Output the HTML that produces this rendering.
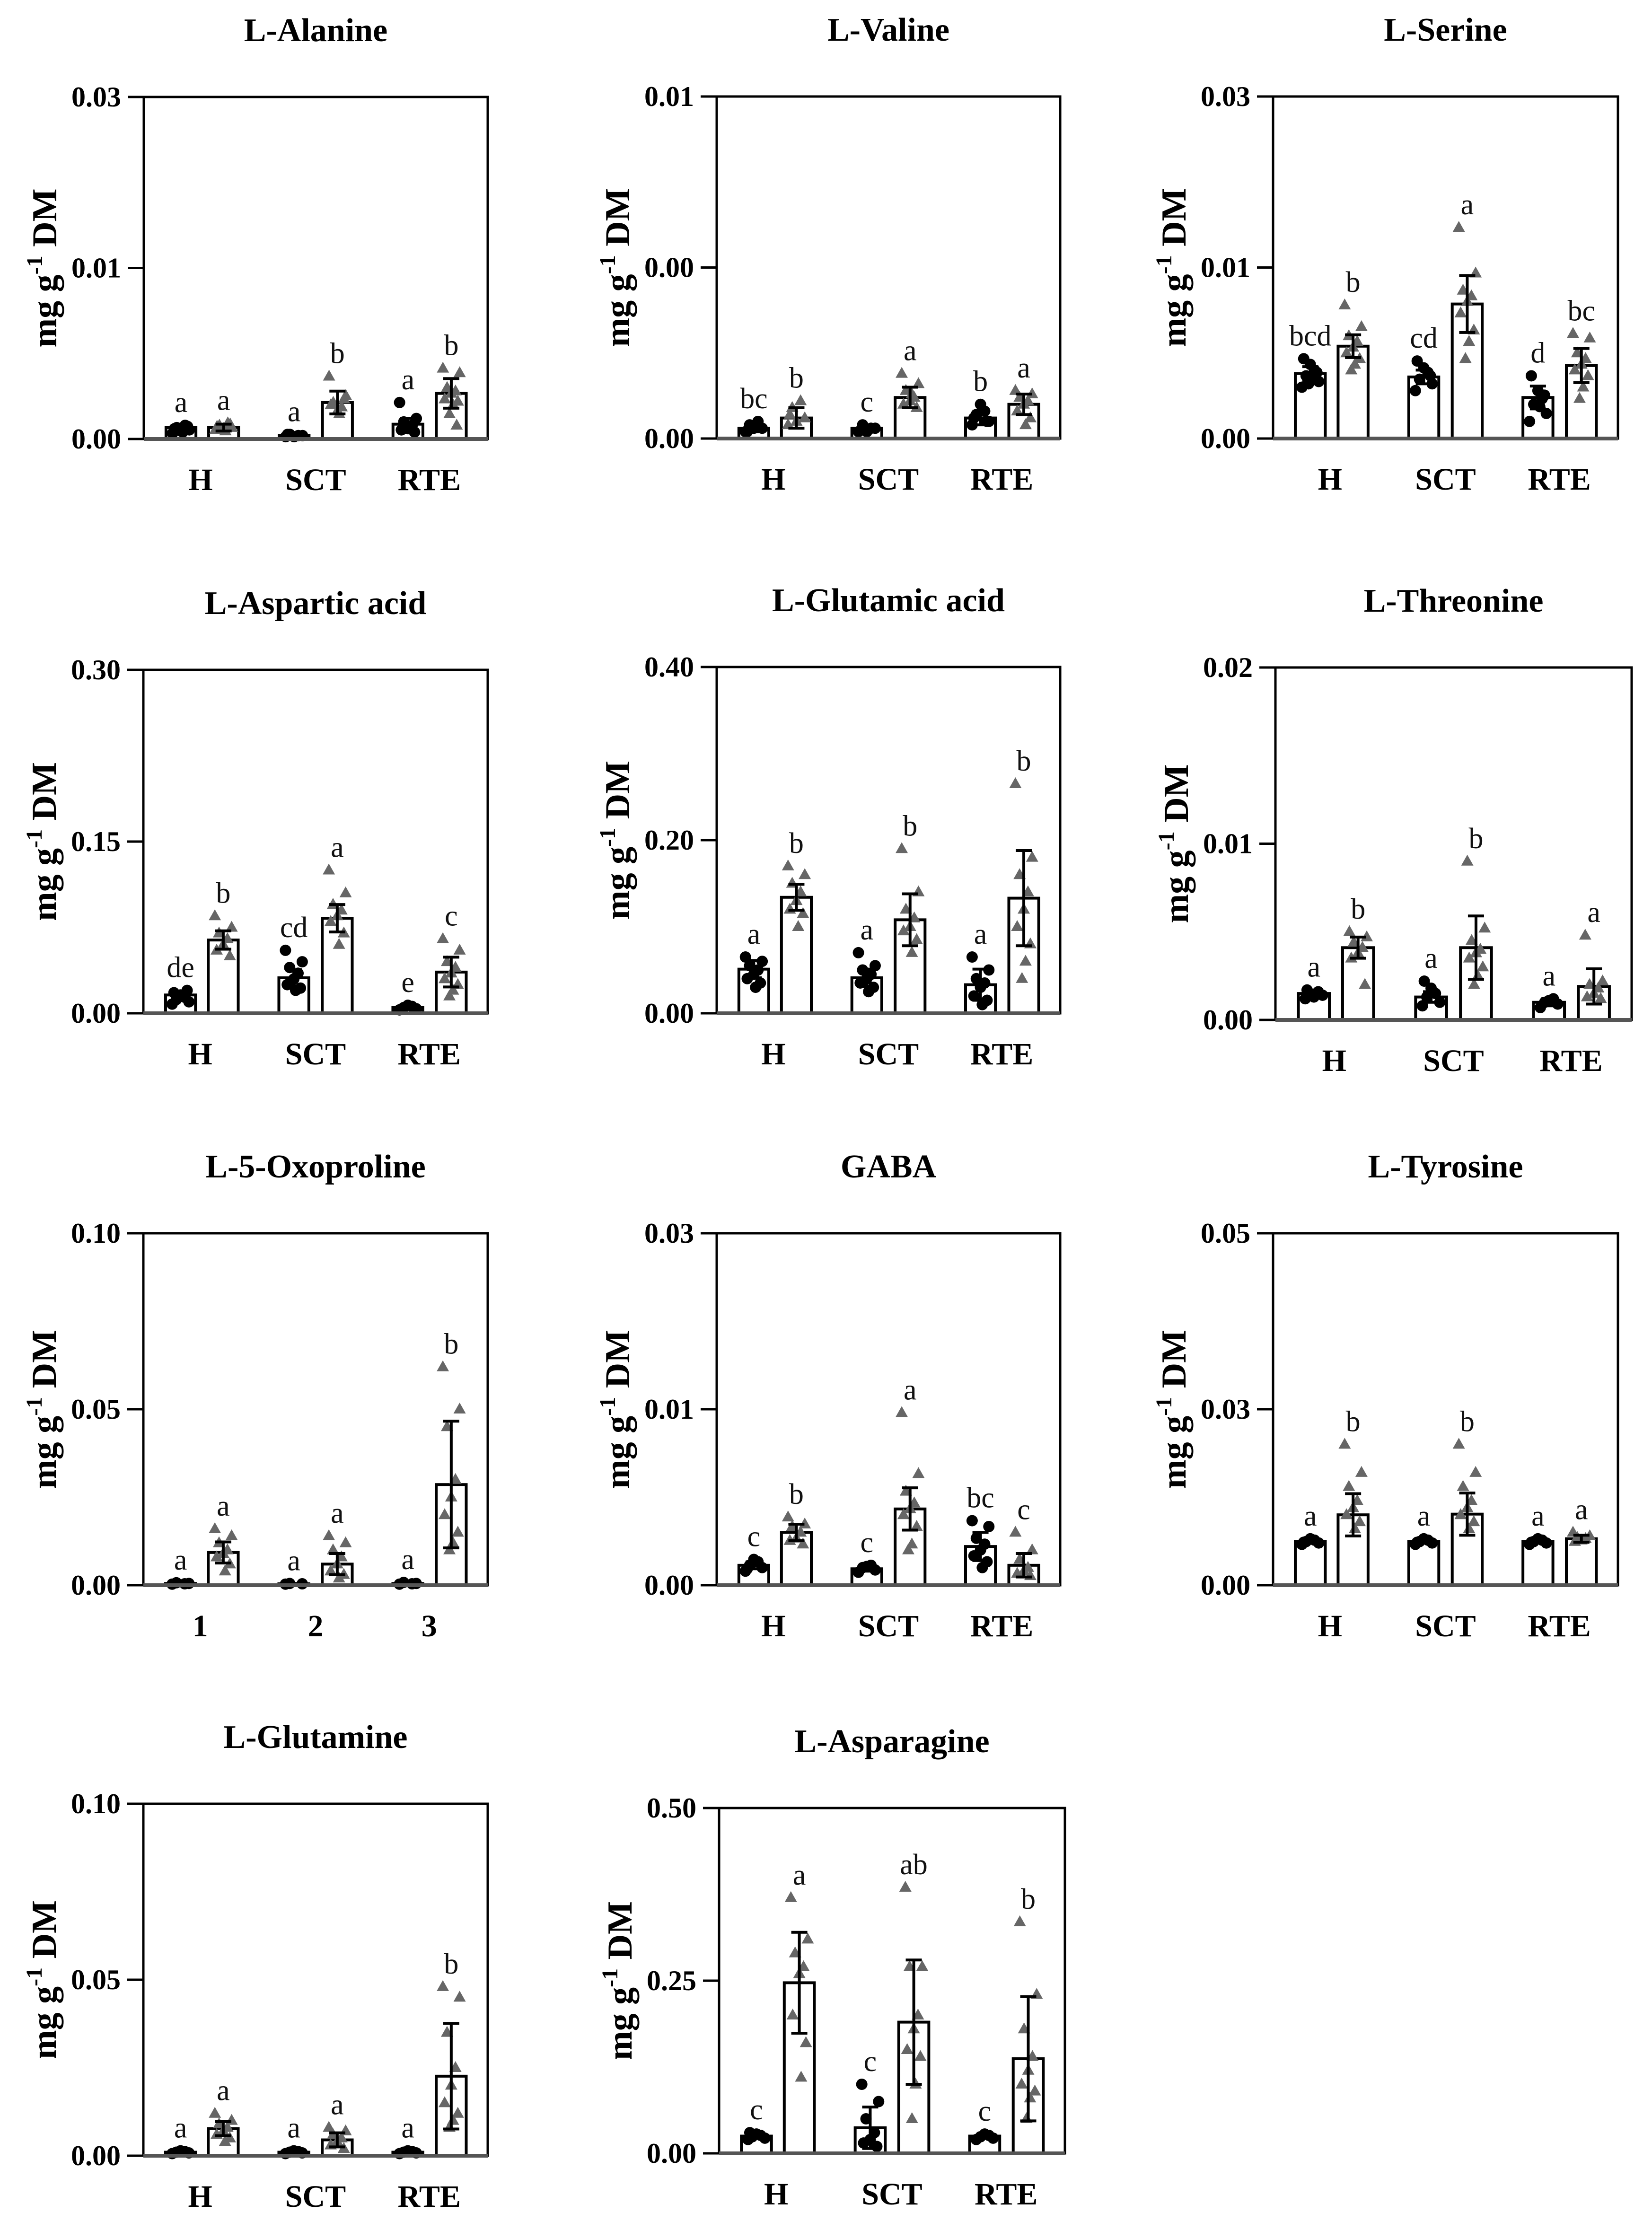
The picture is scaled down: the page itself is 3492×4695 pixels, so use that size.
<!DOCTYPE html>
<html><head><meta charset="utf-8"><style>
html,body{margin:0;padding:0;background:#fff;}
svg{display:block;font-family:"Liberation Serif",serif;}
</style></head><body>
<svg id="fig" xmlns="http://www.w3.org/2000/svg" width="3492" height="4695" viewBox="0 0 3492 4695">
<rect x="0" y="0" width="3492" height="4695" fill="#fff"/>
</svg>
<script>
const titles = ["L-Alanine","L-Valine","L-Serine","L-Aspartic acid","L-Glutamic acid","L-Threonine","L-5-Oxoproline","GABA","L-Tyrosine","L-Glutamine","L-Asparagine"];
const yMax = [0.03,0.01,0.03,0.30,0.40,0.02,0.10,0.03,0.05,0.10,0.50];
const tickLabels = [["0.00","0.01","0.03"],["0.00","0.00","0.01"],["0.00","0.01","0.03"],["0.00","0.15","0.30"],["0.00","0.20","0.40"],["0.00","0.01","0.02"],["0.00","0.05","0.10"],["0.00","0.01","0.03"],["0.00","0.03","0.05"],["0.00","0.05","0.10"],["0.00","0.25","0.50"]];
const groupsDefault = ["H","SCT","RTE"];
const groupsOxo = ["1","2","3"];
const means1 = [[0.001,0.0003,0.0013],[0.0003,0.0003,0.0006],[0.0057,0.0054,0.0036],[0.016,0.031,0.005],[0.051,0.041,0.033],[0.0015,0.0013,0.001],[0.0005,0.0004,0.0005],[0.0017,0.0014,0.0033],[0.0062,0.0062,0.0062],[0.001,0.001,0.001],[0.025,0.037,0.025]];
const err1 = [[0.0002,0.0001,0.0005],[0.0001,0.0001,0.0002],[0.0006,0.0006,0.001],[0.003,0.007,0.001],[0.01,0.01,0.018],[0.0002,0.0003,0.0002],[0.0001,0.0001,0.0001],[0.0003,0.0002,0.0012],[0.0002,0.0002,0.0002],[0.0002,0.0002,0.0002],[0.003,0.03,0.003]];
const means2 = [[0.001,0.0032,0.004],[0.0006,0.0012,0.001],[0.0081,0.0118,0.0064],[0.064,0.083,0.036],[0.134,0.108,0.133],[0.0041,0.0041,0.0019],[0.0093,0.006,0.0286],[0.0045,0.0065,0.0017],[0.01,0.0101,0.0066],[0.0077,0.0045,0.0226],[0.247,0.19,0.137]];
const err2 = [[0.0003,0.001,0.0013],[0.0003,0.0003,0.0003],[0.001,0.0025,0.0015],[0.008,0.012,0.013],[0.015,0.03,0.055],[0.0006,0.0018,0.001],[0.003,0.003,0.018],[0.0007,0.0018,0.001],[0.003,0.003,0.0005],[0.002,0.002,0.015],[0.073,0.09,0.09]];
const pts1 = [
 [[.0005,.0008,.001,.0012,.0007,.0009,.0011,.0006],[.0002,.0003,.0004,.0003,.0002,.0004],[.0032,.0018,.0015,.0012,.0009,.0008,.0006,.001]],
 [[.0002,.0003,.0004,.0005,.0003,.0002],[.0002,.0003,.0004,.0003,.0002],[.0004,.0005,.0007,.0008,.001,.0006,.0005]],
 [[.0045,.005,.0055,.006,.0065,.007,.0058,.0052,.0048],[.0042,.0048,.0052,.0058,.0062,.0068,.0055],[.0015,.0022,.003,.0035,.0042,.0055,.0038,.0028]],
 [[.008,.01,.012,.014,.016,.018,.02],[.055,.045,.04,.035,.03,.025,.022,.02],[.003,.004,.005,.006,.007]],
 [[.065,.06,.055,.05,.045,.04,.035,.03],[.07,.055,.05,.045,.04,.035,.03,.025],[.065,.05,.04,.035,.03,.02,.015,.01]],
 [[.0012,.0014,.0015,.0016,.0013,.0017],[.0008,.001,.0013,.0015,.0018,.0022],[.0007,.0009,.001,.0012,.0011]],
 [[.0003,.0005,.0007,.0004],[.0003,.0004,.0005],[.0003,.0005,.0008,.0004]],
 [[.0012,.0015,.0017,.002,.0022,.0014],[.0011,.0013,.0015,.0017,.0016],[.0055,.005,.004,.0035,.003,.0025,.002,.0015]],
 [[.0058,.006,.0062,.0064,.0066,.0061],[.0058,.006,.0062,.0064,.0066,.0061],[.0058,.006,.0062,.0064,.0066,.0061]],
 [[.0006,.0008,.001,.0012,.0014],[.0006,.0008,.001,.0012,.0014],[.0006,.0008,.001,.0012,.0014]],
 [[.02,.022,.024,.026,.028,.03],[.1,.075,.05,.03,.02,.015,.01],[.02,.022,.024,.026,.028]]
];
const pts2 = [
 [[.0008,.001,.0012,.0014,.0009,.0011,.0013,.0007],[.0055,.0038,.0032,.0028,.0025,.003,.0035,.0022],[.0062,.0058,.0045,.0042,.004,.0035,.0033,.003,.0022,.0012]],
 [[.0004,.0006,.0009,.0011,.0005,.0007],[.0019,.0016,.0014,.0012,.0011,.001,.0009,.0013],[.0014,.0013,.0012,.0011,.001,.0008,.0006,.0004]],
 [[.0117,.0098,.009,.0085,.008,.0075,.007,.0065,.006],[.0185,.0145,.013,.0125,.012,.011,.0095,.0085,.007],[.0092,.0088,.0075,.007,.0065,.006,.0055,.0045,.0035]],
 [[.085,.075,.07,.065,.06,.055,.05],[.125,.105,.095,.09,.085,.08,.07,.06],[.065,.055,.045,.04,.035,.03,.025,.02,.015]],
 [[.17,.16,.15,.14,.13,.12,.115,.1],[.19,.14,.12,.11,.1,.095,.085,.07],[.265,.18,.16,.14,.12,.1,.08,.06,.04]],
 [[.005,.0047,.0044,.0041,.0038,.0035,.002],[.009,.0052,.0045,.004,.0038,.0035,.003,.0025,.002],[.0048,.0022,.002,.0018,.0015,.0013,.0012]],
 [[.016,.014,.012,.01,.009,.008,.006,.004],[.014,.012,.01,.008,.006,.004,.003,.002],[.062,.05,.045,.03,.025,.02,.015,.012,.01]],
 [[.0058,.0052,.005,.0045,.004,.0038,.0035],[.0147,.0095,.008,.007,.0065,.006,.005,.0035,.003],[.0045,.003,.0022,.0015,.0012,.001,.0008]],
 [[.02,.016,.014,.012,.011,.01,.009,.008],[.02,.016,.014,.012,.011,.01,.009,.008],[.0075,.007,.0068,.0066,.0064,.0062]],
 [[.012,.01,.009,.008,.007,.006,.005,.004],[.008,.007,.006,.005,.004,.003,.002],[.048,.045,.035,.025,.02,.015,.012,.01,.008]],
 [[.37,.31,.29,.27,.26,.2,.16,.11],[.385,.27,.27,.2,.18,.15,.14,.1,.05],[.335,.23,.18,.14,.12,.1,.09,.08,.05]]
];
const letters = [["a","a","a","b","a","b"],["bc","b","c","a","b","a"],["bcd","b","cd","a","d","bc"],["de","b","cd","a","e","c"],["a","b","a","b","a","b"],["a","b","a","b","a","a"],["a","a","a","a","a","b"],["c","b","c","a","bc","c"],["a","b","a","b","a","a"],["a","a","a","a","a","b"],["c","a","c","ab","c","b"]];

const boxes = [[304,205,1031,928],[1515,204,2241,927],[2691,204,3420,927],
 [303,1416,1031,2142],[1515,1410,2241,2142],[2696,1411,3449,2156],
 [303,2607,1031,3351],[1515,2607,2241,3351],[2691,2607,3420,3351],
 [303,3813,1031,4557],[1520,3822,2251,4552]];
const barCenters = [0.108,0.232,0.437,0.563,0.768,0.894];
const labelCenters = [0.165,0.5,0.83];
const jit = [-0.28,0.28,-0.14,0.14,0,-0.22,0.22,0.06,-0.06,0.18];

const NS = "http://www.w3.org/2000/svg";
const svg = document.getElementById("fig");
function mk(tag, attrs, parent){
  const e = document.createElementNS(NS, tag);
  for (const k in attrs) e.setAttribute(k, attrs[k]);
  (parent||svg).appendChild(e); return e;
}
titles.forEach((t, p) => {
  const [x0,y0,x1,y1] = boxes[p];
  const W = x1-x0, H = y1-y0;
  const ys = v => y1 - v / yMax[p] * H;
  const xs = f => x0 + f * W;
  const g = mk("g", {});
  
  
  const title = mk("text", {x:(x0+x1)/2, y:y0-118, "text-anchor":"middle", "font-size":70, "font-weight":"bold"}, g);
  title.textContent = t;
  
  
  const yl = mk("text", {transform:`translate(${x0-185},${(y0+y1)/2}) rotate(-90)`, "text-anchor":"middle", "font-size":74, "font-weight":"bold"}, g);
  yl.innerHTML = 'mg g<tspan dy="-30" font-size="48">-1</tspan><tspan dy="30"> DM</tspan>';
  
  
  const tickVals = [0, yMax[p]/2, yMax[p]];
  tickVals.forEach((v,i) => {
    mk("line", {x1:x0-34, x2:x0, y1:ys(v), y2:ys(v), stroke:"#000", "stroke-width":5}, g);
    const tl = mk("text", {x:x0-48, y:ys(v)+20, "text-anchor":"end", "font-size":60, "font-weight":"bold"}, g);
    tl.textContent = tickLabels[p][i];
    
    
  });
  const grp = p === 6 ? groupsOxo : groupsDefault;
  grp.forEach((gname, i) => {
    const xl = mk("text", {x:xs(labelCenters[i]), y:y1+108, "text-anchor":"middle", "font-size":66, "font-weight":"bold"}, g);
    xl.textContent = gname;
    
    
  });
  const bw = 0.087 * W;
  for (let i = 0; i < 3; i++) {
    for (let s = 0; s < 2; s++) {
      const m = s ? means2[p][i] : means1[p][i];
      const er = s ? err2[p][i] : err1[p][i];
      const pts = s ? pts2[p][i] : pts1[p][i];
      const cx = xs(barCenters[i*2+s]);
      const bar = mk("rect", {x:cx-bw/2, y:ys(m), width:bw, height:y1-ys(m), fill:"#fff", stroke:"#000", "stroke-width":6}, g);
      
      
      pts.forEach((v, k) => {
        const px = cx + jit[k % jit.length] * bw, py = ys(v);
        let mark;
        if (s) mark = mk("polygon", {points:`${px},${py-14} ${px-13},${py+9} ${px+13},${py+9}`, fill:"#666"}, g);
        else mark = mk("circle", {cx:px, cy:py, r:12, fill:"#000"}, g);
        
        
      });
      const eg = mk("g", {stroke:"#000", "stroke-width":6}, g);
      
      
      mk("line", {x1:cx, x2:cx, y1:ys(m+er), y2:ys(Math.max(0,m-er))}, eg);
      mk("line", {x1:cx-17, x2:cx+17, y1:ys(m+er), y2:ys(m+er)}, eg);
      mk("line", {x1:cx-17, x2:cx+17, y1:ys(Math.max(0,m-er)), y2:ys(Math.max(0,m-er))}, eg);
      const top = Math.min(ys(Math.max(...pts)), ys(m+er));
      const lt = mk("text", {x:cx, y:top-28, "text-anchor":"middle", "font-size":62, fill:"#111"}, g);
      lt.textContent = letters[p][i*2+s];
      
      
    }
  }
  const frame = mk("rect", {x:x0, y:y0, width:W, height:H, fill:"none", stroke:"#000", "stroke-width":5}, g);
  
  
  mk("line", {x1:x0, x2:x1, y1:y1, y2:y1, stroke:"#555", "stroke-width":8}, g);
});
</script>
</body></html>
